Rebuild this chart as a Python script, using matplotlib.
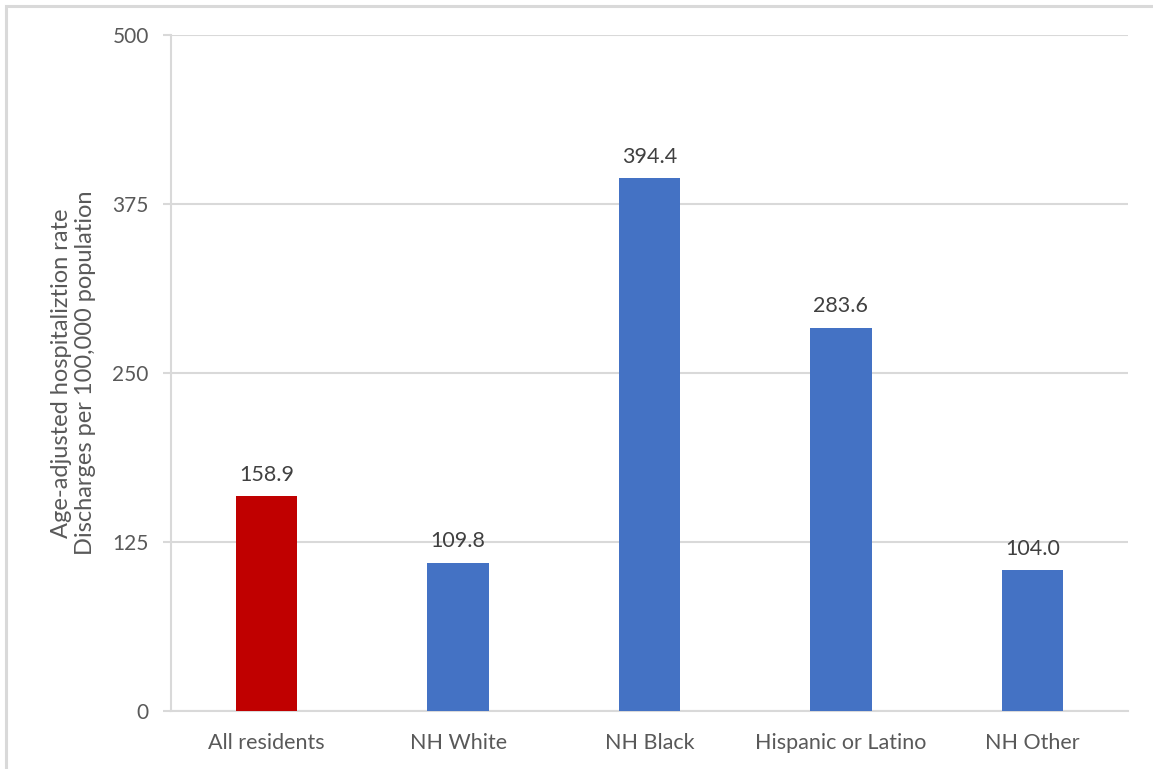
import matplotlib
matplotlib.use("Agg")
import matplotlib.pyplot as plt
from matplotlib.patches import Rectangle

# Age-adjusted hospitalization rates by race/ethnicity
categories = ["All residents", "NH White", "NH Black", "Hispanic or Latino", "NH Other"]
rates = [158.9, 109.8, 394.4, 283.6, 104.0]
bar_colors = ["#C00000", "#4472C4", "#4472C4", "#4472C4", "#4472C4"]
y_ticks = [0, 125, 250, 375, 500]

plt.rcParams["font.family"] = ["Lato", "DejaVu Sans"]

W, H = 1153, 769
fig = plt.figure(figsize=(W / 100, H / 100), dpi=100)
fig.patch.set_facecolor("white")

# chart-area border (runs off the right and bottom edges)
fig.patches.append(Rectangle((6 / W, -0.01), 1.2, (H - 6) / H + 0.01,
                             transform=fig.transFigure, fill=False,
                             edgecolor="#D9D9D9", linewidth=2.2, zorder=0))

ax = fig.add_axes([171 / W, (H - 711) / H, (1128 - 171) / W, (711 - 35) / H])

x = range(len(categories))
bars = ax.bar(x, rates, width=0.32, color=bar_colors, zorder=3)

for b, v in zip(bars, rates):
    ax.annotate(f"{v:.1f}", (b.get_x() + b.get_width() / 2, v),
                xytext=(0, 8), textcoords="offset points",
                ha="center", va="bottom", fontsize=15.5, color="#404040")

ax.set_xlim(-0.5, len(categories) - 0.5)
ax.set_ylim(0, 500)
ax.set_yticks(y_ticks)
ax.set_yticklabels([str(t) for t in y_ticks])
ax.set_xticks(list(x))
ax.set_xticklabels(categories)

ax.grid(axis="y", color="#D9D9D9", linewidth=1.5, zorder=0)
for s in ["top", "right"]:
    ax.spines[s].set_visible(False)
ax.spines["left"].set_color("#D9D9D9")
ax.spines["left"].set_linewidth(1.5)
ax.spines["bottom"].set_color("#D9D9D9")
ax.spines["bottom"].set_linewidth(1.5)

ax.tick_params(axis="y", length=6, width=1.5, color="#D9D9D9", pad=10,
               labelsize=15, labelcolor="#595959")
ax.tick_params(axis="x", length=0, pad=16, labelsize=15.5, labelcolor="#595959")

ax.set_ylabel("Age-adjusted hospitaliztion rate\nDischarges per 100,000 population",
              fontsize=17, color="#595959", labelpad=12, linespacing=1.15)

fig.savefig("out.png", dpi=100, facecolor="white")
